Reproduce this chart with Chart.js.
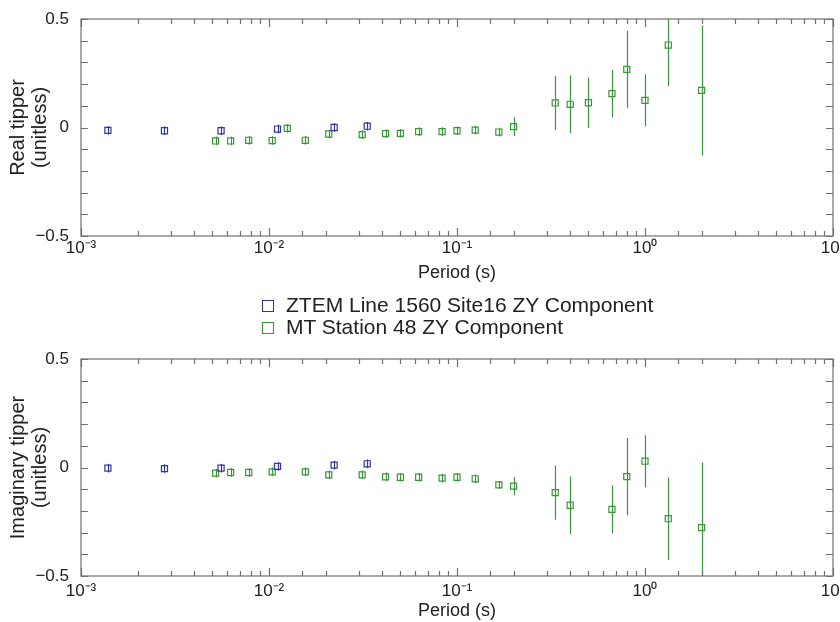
<!DOCTYPE html>
<html>
<head>
<meta charset="utf-8">
<script src="https://cdn.jsdelivr.net/npm/chart.js@4"></script>
<style>
  html, body { margin: 0; padding: 0; background: #fff; overflow: hidden; }
  #wrap { position: relative; width: 860px; height: 622px; }
  canvas { position: absolute; left: 0; }
  #top { top: 0; }
  #bottom { top: 290px; }
  #legend {
    position: absolute; left: 262px; top: 294px;
    font: 21px 'Liberation Sans', Arial, sans-serif; color: #222;
  }
  #legend div { height: 22px; line-height: 22px; white-space: nowrap; }
  #legend span.box {
    display: inline-block; width: 10px; height: 10px; margin-right: 12px;
    border-width: 1.4px; border-style: solid; vertical-align: 0px;
  }
</style>
</head>
<body>
<div id="wrap">
  <canvas id="top" width="860" height="290"></canvas>
  <canvas id="bottom" width="860" height="332"></canvas>
  <div id="legend"></div>
</div>
<script>
// ZTEM line 1560, site 16 (ZY)
const ztemPeriods = [0.00139, 0.00278, 0.00556, 0.0111, 0.0222, 0.0333];
const ztemReal = [-0.013, -0.015, -0.015, -0.007, 0.0, 0.006];
const ztemRealErr = [0.02, 0.02, 0.02, 0.02, 0.02, 0.02];
const ztemImag = [-0.003, -0.005, -0.003, 0.005, 0.011, 0.017];
const ztemImagErr = [0.02, 0.02, 0.02, 0.02, 0.02, 0.02];

// MT station 48 (ZY)
const mtPeriods = [0.0052, 0.00625, 0.0078, 0.0104, 0.0125, 0.0156, 0.0208, 0.0313, 0.0417, 0.05, 0.0625, 0.0833,
                   0.1, 0.125, 0.167, 0.2, 0.333, 0.4, 0.5, 0.667, 0.8, 1.0, 1.33, 2.0];
const mtReal = [-0.062, -0.062, -0.059, -0.060, -0.004, -0.059, -0.030, -0.033, -0.028, -0.027, -0.019, -0.019,
                -0.015, -0.012, -0.021, 0.004, 0.113, 0.107, 0.114, 0.156, 0.268, 0.125, 0.380, 0.171];
const mtRealErr = [0.02, 0.02, 0.02, 0.02, 0.02, 0.02, 0.02, 0.02, 0.02, 0.02, 0.02, 0.02,
                   0.02, 0.02, 0.02, 0.043, 0.124, 0.133, 0.116, 0.11, 0.177, 0.12, 0.19, 0.30];
const mtImag = [-0.026, -0.023, -0.023, -0.020, null, -0.020, -0.034, -0.034, -0.043, -0.045, -0.045, -0.049,
                -0.045, -0.052, -0.080, -0.086, -0.116, -0.174, null, -0.193, -0.042, 0.029, -0.236, -0.277];
const mtImagErr = [0.02, 0.02, 0.02, 0.02, null, 0.02, 0.02, 0.02, 0.02, 0.02, 0.02, 0.02,
                   0.02, 0.02, 0.018, 0.042, 0.125, 0.133, null, 0.111, 0.178, 0.12, 0.19, 0.30];

const seriesNames = ['ZTEM Line 1560 Site16 ZY Component', 'MT Station 48 ZY Component'];
const seriesColors = ['#3434a6', '#3a963a'];
const decadeLabels = ['10⁻³', '10⁻²', '10⁻¹', '10⁰', '10¹'];
const yLabels = ['−0.5', '0', '0.5'];

Chart.defaults.font.family = "'Liberation Sans', Arial, sans-serif";
Chart.defaults.color = '#222';

const isDecade = v => Math.abs(Math.log10(v) - Math.round(Math.log10(v))) < 1e-9;

function points(periods, vals, errs) {
  const out = [];
  periods.forEach((p, i) => {
    if (vals[i] === null) return;
    out.push({ x: p, y: vals[i], err: errs[i] });
  });
  return out;
}

// vertical error bars, clipped to the plot frame
const errorBars = {
  id: 'errorBars',
  beforeDatasetsDraw(chart) {
    const { ctx, chartArea: a, scales: { x, y } } = chart;
    ctx.save();
    ctx.beginPath();
    ctx.rect(a.left, a.top, a.right - a.left, a.bottom - a.top);
    ctx.clip();
    chart.data.datasets.forEach(ds => {
      ctx.strokeStyle = ds.borderColor;
      ctx.lineWidth = 1.2;
      ds.data.forEach(p => {
        const px = Math.round(x.getPixelForValue(p.x)) + 0.5;
        ctx.beginPath();
        ctx.moveTo(px, y.getPixelForValue(p.y - p.err));
        ctx.lineTo(px, y.getPixelForValue(p.y + p.err));
        ctx.stroke();
      });
    });
    ctx.restore();
  }
};

// box frame with inward ticks on all four sides
const frameTicks = {
  id: 'frameTicks',
  afterDraw(chart) {
    const { ctx, chartArea: a, scales: { x, y } } = chart;
    ctx.save();
    ctx.strokeStyle = '#707070';
    ctx.lineWidth = 1.2;
    ctx.beginPath();
    x.ticks.forEach(t => {
      const px = Math.round(x.getPixelForValue(t.value)) + 0.5;
      const len = isDecade(t.value) ? 8 : 5;
      ctx.moveTo(px, a.bottom); ctx.lineTo(px, a.bottom - len);
      ctx.moveTo(px, a.top); ctx.lineTo(px, a.top + len);
    });
    y.ticks.forEach(t => {
      const py = Math.round(y.getPixelForValue(t.value)) + 0.5;
      ctx.moveTo(a.left, py); ctx.lineTo(a.left + 7, py);
      ctx.moveTo(a.right, py); ctx.lineTo(a.right - 7, py);
    });
    ctx.stroke();
    ctx.strokeRect(a.left, a.top, a.right - a.left, a.bottom - a.top);
    ctx.restore();
  }
};

function makePanel(id, ztemVals, ztemErrs, mtVals, mtErrs, yTitle, padTop, xHeight, tickPad, titlePad) {
  return new Chart(document.getElementById(id), {
    type: 'scatter',
    data: {
      datasets: [
        { label: seriesNames[0], data: points(ztemPeriods, ztemVals, ztemErrs) },
        { label: seriesNames[1], data: points(mtPeriods, mtVals, mtErrs) }
      ].map((ds, i) => Object.assign(ds, {
        borderColor: seriesColors[i],
        backgroundColor: 'rgba(0,0,0,0)',
        pointStyle: 'rect',
        pointRadius: 4.3,
        borderWidth: 1.2,
        showLine: false
      }))
    },
    options: {
      responsive: false,
      animation: false,
      devicePixelRatio: 1,
      layout: { padding: { left: 0, right: 27, top: padTop, bottom: 0 } },
      plugins: { legend: { display: false }, tooltip: { enabled: false } },
      scales: {
        x: {
          type: 'logarithmic',
          min: 0.001,
          max: 10,
          grid: { display: false },
          border: { display: false },
          ticks: {
            autoSkip: false,
            maxRotation: 0,
            padding: tickPad,
            font: { size: 17 },
            callback: v => isDecade(v) ? decadeLabels[Math.round(Math.log10(v)) + 3] : ''
          },
          title: { display: true, text: 'Period (s)', font: { size: 18 }, padding: { top: 0, bottom: titlePad } },
          afterFit: s => { s.height = xHeight; }
        },
        y: {
          min: -0.5,
          max: 0.5,
          grid: { display: false },
          border: { display: false },
          ticks: {
            autoSkip: false,
            stepSize: 0.1,
            padding: 4,
            font: { size: 17 },
            callback: v => {
              const k = Math.round(v * 2);
              return Math.abs(v * 2 - k) < 1e-9 ? yLabels[k + 1] : '';
            }
          },
          title: { display: true, text: yTitle, font: { size: 20, lineHeight: 1.1 }, padding: { top: 7, bottom: 0 } },
          afterFit: s => { s.width = 81; }
        }
      }
    },
    plugins: [errorBars, frameTicks]
  });
}

makePanel('top', ztemReal, ztemRealErr, mtReal, mtRealErr, ['Real tipper', '(unitless)'], 19, 54, -6, 6);
makePanel('bottom', ztemImag, ztemImagErr, mtImag, mtImagErr, ['Imaginary tipper', '(unitless)'], 69, 46, -3, 0);

// legend between the two panels
const legend = document.getElementById('legend');
seriesNames.forEach((name, i) => {
  const row = document.createElement('div');
  const box = document.createElement('span');
  box.className = 'box';
  box.style.borderColor = seriesColors[i];
  row.appendChild(box);
  row.appendChild(document.createTextNode(name));
  legend.appendChild(row);
});
</script>
</body>
</html>
